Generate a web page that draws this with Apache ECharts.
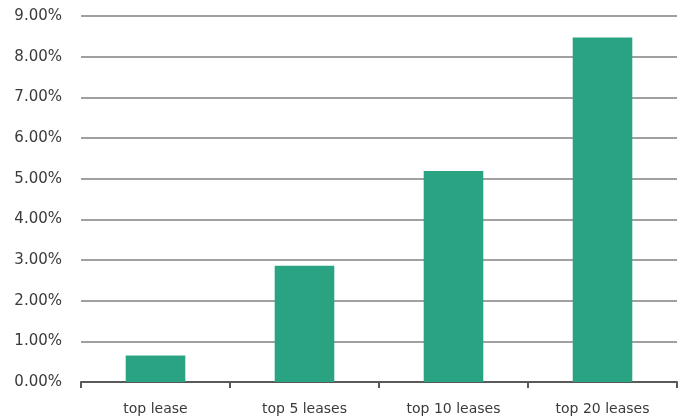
<!DOCTYPE html>
<html>
<head>
<meta charset="utf-8">
<script src="https://cdn.jsdelivr.net/npm/echarts@6/dist/echarts.min.js"></script>
<style>
  html, body { margin: 0; padding: 0; background: #fff; }
  #chart { width: 688px; height: 419px; }
</style>
</head>
<body>
<div id="chart"></div>
<script>
// Share of total held by the largest leases (percent)
const categories = ['top lease', 'top 5 leases', 'top 10 leases', 'top 20 leases'];
const shareValues = [0.65, 2.86, 5.19, 8.47];
const yTicks = { min: 0, max: 9, interval: 1 };

const chart = echarts.init(document.getElementById('chart'), null, { renderer: 'canvas' });
const font = 'DejaVu Sans';

chart.setOption({
  animation: false,
  grid: { left: 81, right: 11, top: 16, bottom: 37, containLabel: false },
  xAxis: {
    type: 'category',
    data: categories,
    axisLine: { lineStyle: { color: '#595959', width: 2 } },
    axisTick: { show: true, length: 6, lineStyle: { color: '#595959', width: 2 } },
    axisLabel: { color: '#3a3a3a', fontFamily: font, fontSize: 14, margin: 20 }
  },
  yAxis: {
    type: 'value',
    min: yTicks.min,
    max: yTicks.max,
    interval: yTicks.interval,
    axisLine: { show: false },
    axisTick: { show: false },
    splitLine: { lineStyle: { color: '#a0a0a0', width: 2 } },
    axisLabel: {
      color: '#3a3a3a', fontFamily: font, fontSize: 15, margin: 19,
      formatter: v => v.toFixed(2) + '%'
    }
  },
  series: [{
    type: 'bar',
    data: shareValues,
    barWidth: '40%',
    itemStyle: { color: '#2aa383' }
  }]
});
</script>
</body>
</html>
